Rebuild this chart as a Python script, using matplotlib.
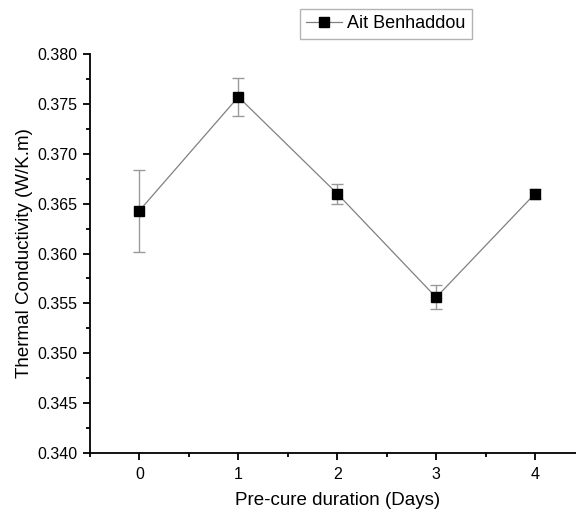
import matplotlib.pyplot as plt
from matplotlib.lines import Line2D

plt.rcParams['font.family'] = ['Liberation Sans', 'DejaVu Sans']

# Data
days = [0, 1, 2, 3, 4]
conductivity = [0.3643, 0.3757, 0.3660, 0.3556, 0.3660]
errors = [0.0041, 0.0019, 0.0010, 0.0012, 0.0005]

fig = plt.figure(figsize=(5.76, 5.13), dpi=100)
ax = fig.add_axes([90 / 576, 60 / 513, 494.5 / 576, 399 / 513])

ax.errorbar(days, conductivity, yerr=errors, color='#808080', lw=0.9,
            marker='s', markersize=7.5, markerfacecolor='black',
            markeredgecolor='black', ecolor='#9a9a9a', elinewidth=1.0,
            capsize=4, capthick=1.0)

ax.set_xlim(-0.5, 4.5)
ax.set_ylim(0.340, 0.380)
ax.set_xticks([0, 1, 2, 3, 4])
ax.set_xticks([-0.5, 0.5, 1.5, 2.5, 3.5], minor=True)
ax.set_yticks([0.340 + 0.005 * i for i in range(9)])
ax.set_yticks([0.3425 + 0.005 * i for i in range(8)], minor=True)
ax.yaxis.set_major_formatter(plt.FormatStrFormatter('%.3f'))

for side in ['top', 'right']:
    ax.spines[side].set_visible(False)
for side in ['left', 'bottom']:
    ax.spines[side].set_linewidth(1.3)

ax.tick_params(which='major', length=5, width=1.3, labelsize=11.5, direction='out')
ax.tick_params(which='minor', length=3, width=1.3, direction='out')
ax.tick_params(axis='x', pad=5)
ax.tick_params(axis='y', pad=4)

ax.set_xlabel('Pre-cure duration (Days)', fontsize=13.5, labelpad=7)
ax.set_ylabel('Thermal Conductivity (W/K.m)', fontsize=13.5, labelpad=3)

handle = Line2D([], [], color='#808080', lw=0.9, marker='s', markersize=7,
                markerfacecolor='black', markeredgecolor='black')
leg = fig.legend([handle], ['Ait Benhaddou'], loc='upper left',
                 bbox_to_anchor=(300 / 576, 1 - 9 / 513),
                 fontsize=13, fancybox=False, edgecolor='#a0a0a0',
                 handlelength=2.0, handletextpad=0.25, borderpad=0.35,
                 borderaxespad=0)
leg.get_frame().set_linewidth(1.0)

fig.savefig('out.png', dpi=100)
